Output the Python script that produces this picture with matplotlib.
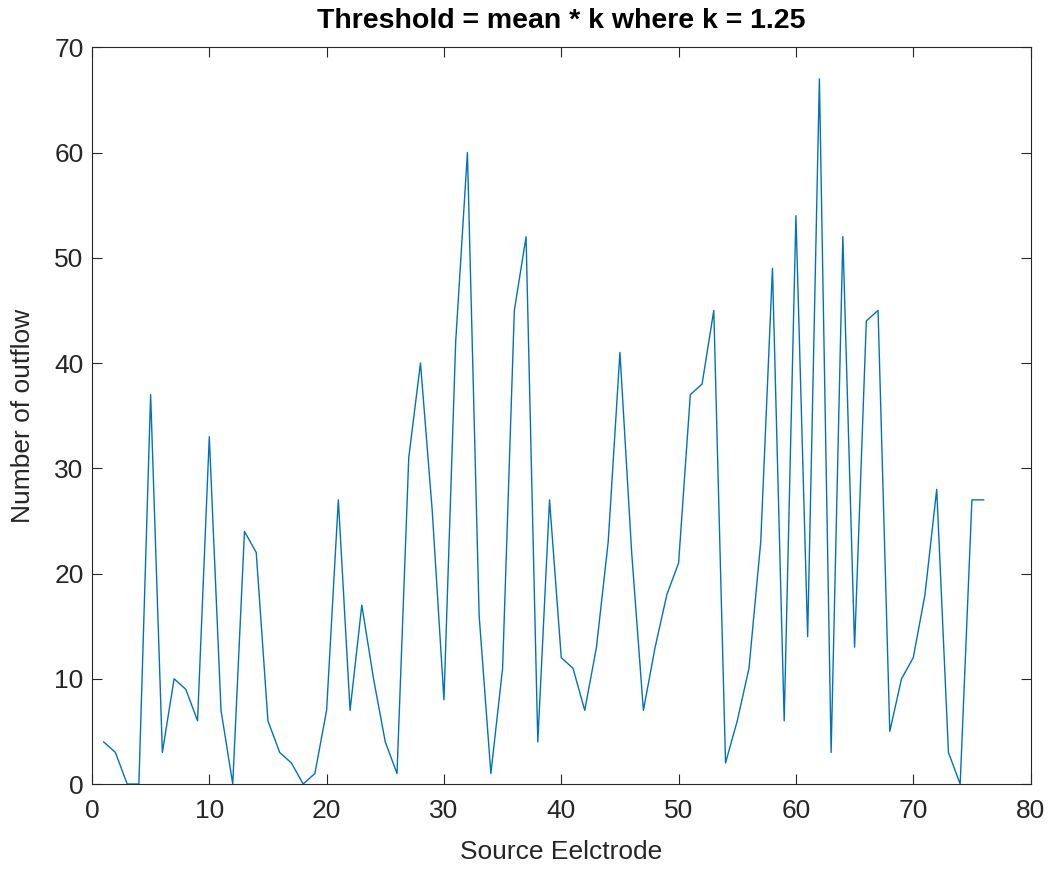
import numpy as np
import matplotlib.pyplot as plt

# electrode index and outflow count
electrode = np.arange(1, 77)
outflow = [4, 3, 0, 0, 37, 3, 10, 9, 6, 33,
           7, 0, 24, 22, 6, 3, 2, 0, 1, 7,
           27, 7, 17, 10, 4, 1, 31, 40, 26, 8,
           42, 60, 16, 1, 11, 45, 52, 4, 27, 12,
           11, 7, 13, 23, 41, 22, 7, 13, 18, 21,
           37, 38, 45, 2, 6, 11, 23, 49, 6, 54,
           14, 67, 3, 52, 13, 44, 45, 5, 10, 12,
           18, 28, 3, 0, 27, 27]

x_ticks = np.arange(0, 81, 10)
y_ticks = np.arange(0, 71, 10)

plt.rcParams['font.family'] = ['Liberation Sans', 'DejaVu Sans']
axis_grey = '#262626'

fig = plt.figure(figsize=(10.57, 8.76), dpi=100)
ax = fig.add_axes([0.087, 0.105, 0.888, 0.841])

ax.plot(electrode, outflow, color='#0072BD', linewidth=1.0)

ax.set_xlim(0, 80)
ax.set_ylim(0, 70)
ax.set_xticks(x_ticks)
ax.set_yticks(y_ticks)

ax.tick_params(direction='in', length=7, width=0.8, top=True, right=True,
               labelsize=19, colors=axis_grey, pad=6)
ax.tick_params(axis='x', pad=11)
for side in ax.spines.values():
    side.set_color(axis_grey)
    side.set_linewidth(0.8)

ax.set_xlabel('Source Eelctrode', fontsize=19, color=axis_grey, labelpad=12)
ax.set_ylabel('Number of outflow', fontsize=19, color=axis_grey, labelpad=14)
ax.set_title('Threshold = mean * k where k = 1.25', fontsize=20.5,
             fontweight='bold', pad=14)

fig.savefig('out.png', dpi=100)
